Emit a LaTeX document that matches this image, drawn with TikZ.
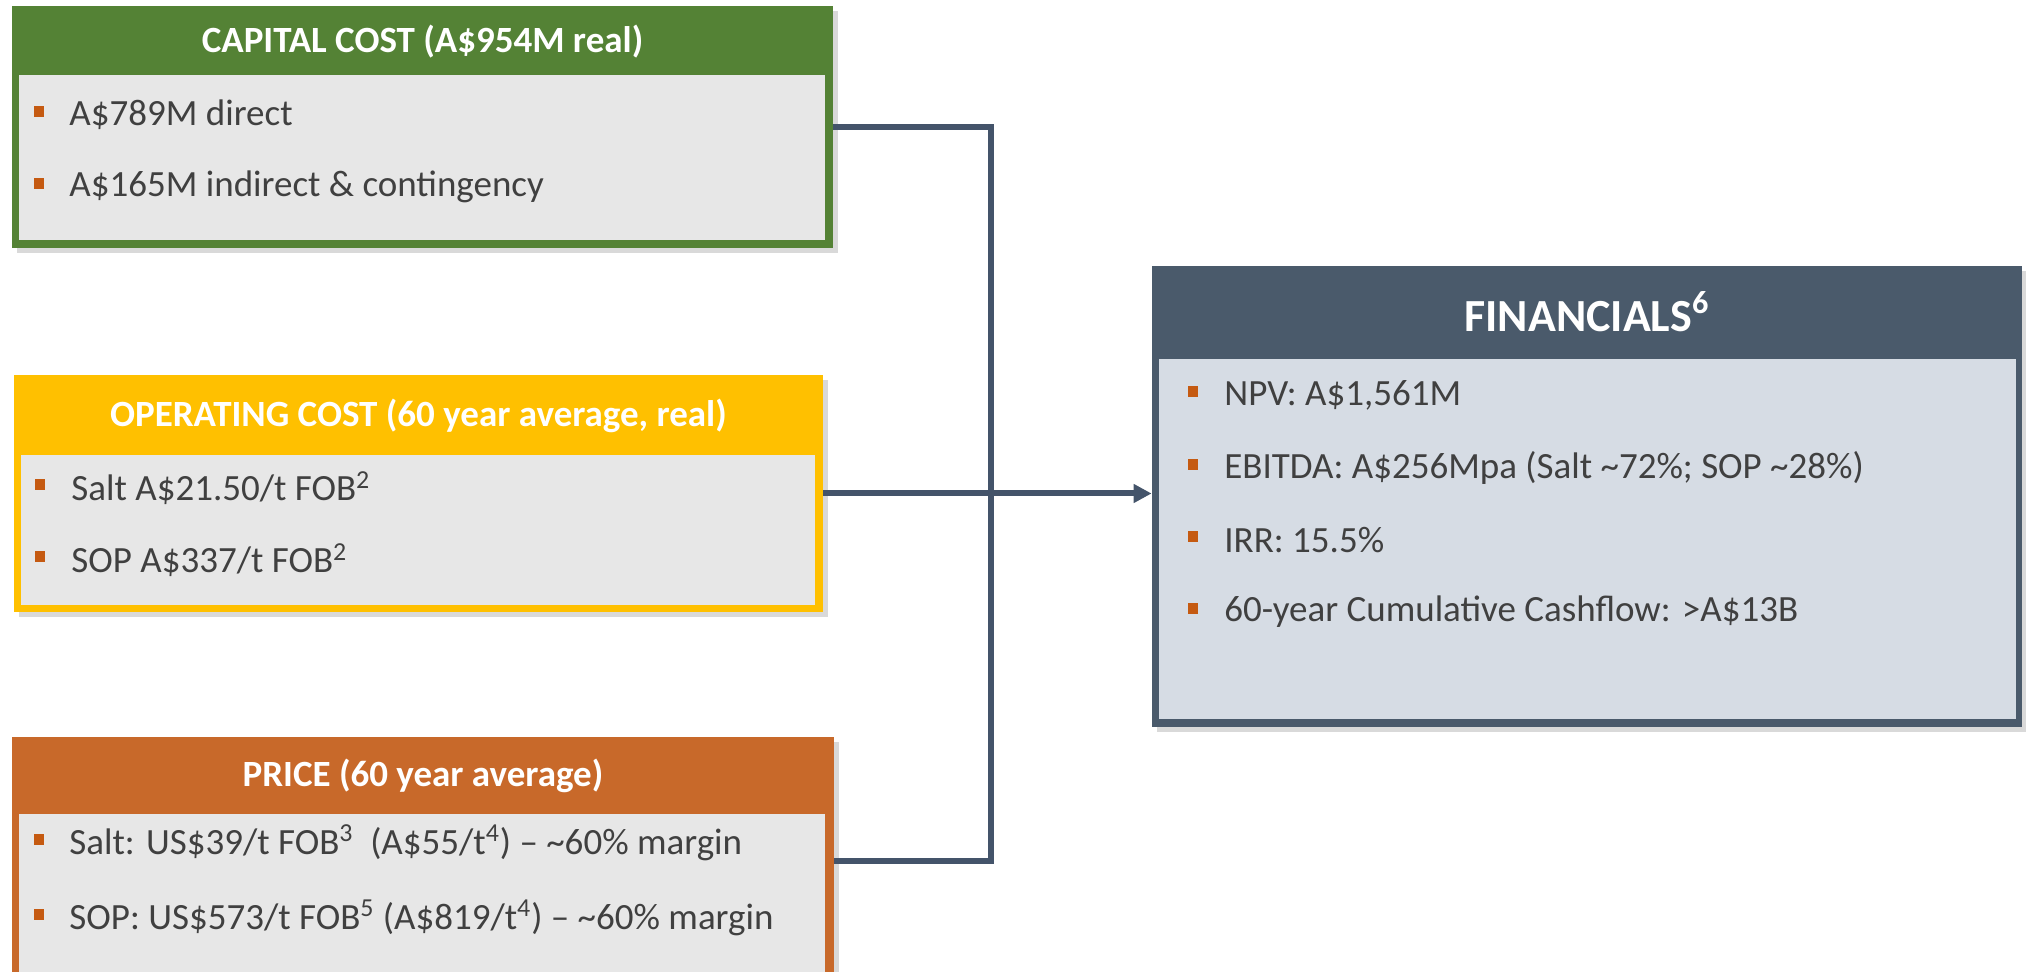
\documentclass[tikz,border=0pt]{standalone}
\usepackage{fontspec}
\setmainfont{Carlito}
\usetikzlibrary{arrows.meta,shadows}
\definecolor{capgreen}{HTML}{548235}
\definecolor{opyellow}{HTML}{FFC000}
\definecolor{priceorange}{HTML}{C8692A}
\definecolor{slate}{HTML}{4A5A6B}
\definecolor{linkslate}{HTML}{44546A}
\definecolor{bodygrey}{HTML}{E7E7E7}
\definecolor{finbody}{HTML}{D6DCE4}
\definecolor{bulorange}{HTML}{C55A11}
\definecolor{txt}{HTML}{404040}
\newcommand\sups[1]{\textsuperscript{#1}}
\tikzset{
  box/.style={inner sep=0, drop shadow={shadow xshift=2.5pt, shadow yshift=-2.5pt, opacity=.3}},
  body/.style={inner sep=0},
  head/.style={text=white, font=\fontsize{18.5}{22}\selectfont\bfseries},
  item/.style={anchor=west, inner sep=0, text=txt, font=\fontsize{18.5}{22}\selectfont},
  bul/.style={fill=bulorange, inner sep=0, minimum width=5pt, minimum height=5.5pt},
  link/.style={draw=linkslate, line width=3pt}
}

\begin{document}
\begin{tikzpicture}[x=0.5pt, y=-0.5pt]
  \path[use as bounding box, clip] (0,0) rectangle (2026,972);

  % capital cost
  \node[box, fill=capgreen, minimum width=410.5pt, minimum height=121pt]
    at (422.5, 127) (cap){};
  \node[body, fill=bodygrey, minimum width=403pt, minimum height=82.5pt]
    at (422, 157.5) (capbody){};
  \node[head] at (422.5, 42) (caphead){CAPITAL COST (A\$954M real)};
  \node[bul] at (39, 112) {};
  \node[item] at (69, 115) (cap1){A\$789M direct};
  \node[bul] at (39, 184) {};
  \node[item] at (69, 187) (cap2){A\$165M indirect \& contingency};

  % operating cost
  \node[box, fill=opyellow, minimum width=404.5pt, minimum height=118.5pt]
    at (418.5, 493.5) (opex){};
  \node[body, fill=bodygrey, minimum width=397pt, minimum height=75pt]
    at (418, 530) (opexbody){};
  \node[head] at (418.5, 416) (opexhead){OPERATING COST (60 year average, real)};
  \node[bul] at (40, 485) {};
  \node[item] at (71, 488) (opex1){Salt A\$21.50/t FOB\sups{2}};
  \node[bul] at (40, 557) {};
  \node[item] at (71, 560) (opex2){SOP A\$337/t FOB\sups{2}};

  % price
  \node[box, fill=priceorange, minimum width=411pt, minimum height=124pt]
    at (423, 861) (price){};
  \node[body, fill=bodygrey, minimum width=403pt, minimum height=83pt]
    at (422, 897) (pricebody){};
  \node[head] at (423, 776) (pricehead){PRICE (60 year average)};
  \node[bul] at (39, 840) {};
  \node[item] at (69, 843) (price1){Salt: US\$39/t FOB\sups{3}\ \ (A\$55/t\sups{4}) -- \textasciitilde60\% margin};
  \node[bul] at (39, 915) {};
  \node[item] at (69, 918) (price2){SOP: US\$573/t FOB\sups{5} (A\$819/t\sups{4}) -- \textasciitilde60\% margin};

  % financials
  \node[box, fill=slate, minimum width=435pt, minimum height=230.5pt]
    at (1587, 496.5) (fin){};
  \node[body, fill=finbody, minimum width=428.5pt, minimum height=180pt]
    at (1587.5, 539) (finbody){};
  \node[head, font=\fontsize{23}{27}\selectfont\bfseries] at (1587, 312) (finhead){FINANCIALS\sups{6}};
  \node[bul] at (1193, 392) {};
  \node[item] at (1224, 395) (fin1){NPV: A\$1,561M};
  \node[bul] at (1193, 465) {};
  \node[item] at (1224, 468) (fin2){EBITDA: A\$256Mpa (Salt \textasciitilde72\%; SOP \textasciitilde28\%)};
  \node[bul] at (1193, 537) {};
  \node[item] at (1224, 540) (fin3){IRR: 15.5\%};
  \node[bul] at (1193, 609) {};
  \node[item] at (1224, 612) (fin4){60-year Cumulative Cashflow: >A\$13B};

  % connectors
  \coordinate (join) at (991, 495);
  \draw[link] (cap.east) -| (join) |- (price.east);
  \draw[link, -{Triangle[length=9pt, width=9pt]}] (opex.east) -- (opex.east -| fin.west);
\end{tikzpicture}
\end{document}
